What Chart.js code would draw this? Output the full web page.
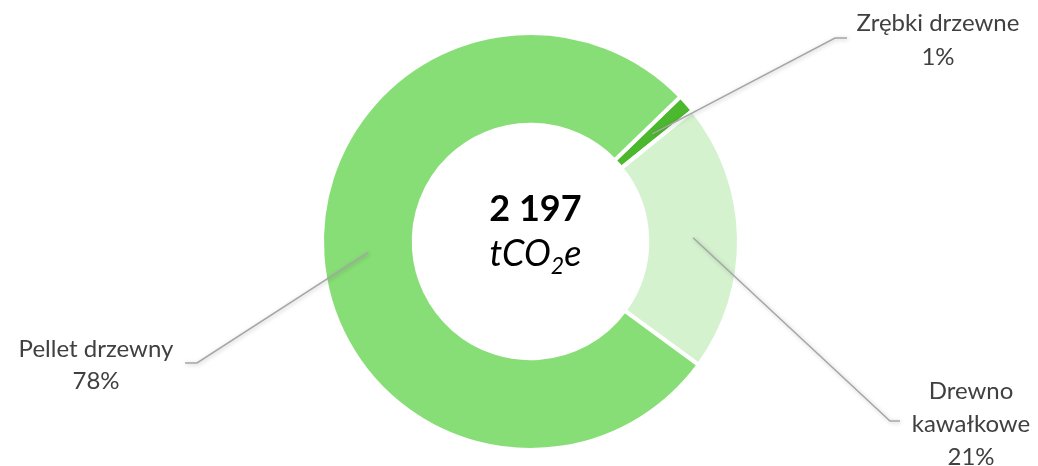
<!DOCTYPE html>
<html>
<head>
<meta charset="utf-8">
<script src="https://cdn.jsdelivr.net/npm/chart.js@4.4.1/dist/chart.umd.min.js"></script>
<style>
  html, body { margin: 0; padding: 0; background: #ffffff; }
  #wrap { width: 1038px; height: 466px; position: relative; }
</style>
</head>
<body>
<div id="wrap"><canvas id="c" width="1038" height="466"></canvas></div>
<script>
// ---- data ----
const categories = ['Zrębki drzewne', 'Drewno kawałkowe', 'Pellet drzewny'];
const values = [31, 459, 1707];
const percentLabels = ['1%', '21%', '78%'];
const totalLabel = '2 197';
const unitMain = 'tCO';
const unitSub = '2';
const unitTail = 'e';

// ---- styles / layout ----
const sliceColors = ['#4cb82e', '#d5f2cf', '#88de76'];
const labelFont = 'Lato, "Open Sans", sans-serif';
const labelLayout = [
  { lines: ['Zrębki drzewne', percentLabels[0]], x: 938, y: 23, lh: 34, elbow: [835, 38], end: [847, 38] },
  { lines: ['Drewno', 'kawałkowe', percentLabels[1]], x: 971, y: 391, lh: 33, elbow: [890, 421], end: [900, 421] },
  { lines: ['Pellet drzewny', percentLabels[2]], x: 96, y: 349, lh: 32, elbow: [197, 363], end: [185, 363] }
];

const labelsPlugin = {
  id: 'labelsPlugin',
  afterDraw(chart) {
    const ctx = chart.ctx;
    const meta = chart.getDatasetMeta(0);
    meta.data.forEach((arc, i) => {
      const L = labelLayout[i];
      const p = arc.getCenterPoint();
      ctx.save();
      ctx.shadowColor = 'rgba(0,0,0,0.25)';
      ctx.shadowBlur = 4;
      ctx.shadowOffsetX = 1;
      ctx.shadowOffsetY = 1;
      ctx.strokeStyle = '#a6a6a6';
      ctx.lineWidth = 1.5;
      ctx.beginPath();
      ctx.moveTo(p.x, p.y);
      ctx.lineTo(L.elbow[0], L.elbow[1]);
      ctx.lineTo(L.end[0], L.end[1]);
      ctx.stroke();
      ctx.restore();

      ctx.save();
      ctx.fillStyle = '#404040';
      ctx.font = '24px ' + labelFont;
      ctx.textAlign = 'center';
      ctx.textBaseline = 'middle';
      L.lines.forEach((t, k) => ctx.fillText(t, L.x, L.y + k * L.lh));
      ctx.restore();
    });

    // center text
    const cx = meta.data[0].x + 5;
    const cy = meta.data[0].y;
    ctx.save();
    ctx.fillStyle = '#000000';
    ctx.textBaseline = 'alphabetic';
    ctx.textAlign = 'center';
    ctx.font = 'bold 36px ' + labelFont;
    ctx.fillText(totalLabel, cx, cy - 21);
    ctx.font = 'italic 36px ' + labelFont;
    const wMain = ctx.measureText(unitMain).width;
    const wTail = ctx.measureText(unitTail).width;
    ctx.font = 'italic 23px ' + labelFont;
    const wSub = ctx.measureText(unitSub).width;
    const total = wMain + wSub + wTail;
    let x = cx - total / 2;
    const base = cy + 24;
    ctx.textAlign = 'left';
    ctx.font = 'italic 36px ' + labelFont;
    ctx.fillText(unitMain, x, base);
    x += wMain;
    ctx.font = 'italic 23px ' + labelFont;
    ctx.fillText(unitSub, x, base + 8);
    x += wSub;
    ctx.font = 'italic 36px ' + labelFont;
    ctx.fillText(unitTail, x, base);
    ctx.restore();
  }
};

new Chart(document.getElementById('c'), {
  type: 'doughnut',
  data: {
    labels: categories,
    datasets: [{
      data: values,
      backgroundColor: sliceColors,
      borderColor: '#ffffff',
      borderWidth: 4
    }]
  },
  options: {
    responsive: false,
    animation: false,
    rotation: 46,
    cutout: '56%',
    layout: { padding: { left: 320, right: 297, top: 31, bottom: 14 } },
    plugins: {
      legend: { display: false },
      tooltip: { enabled: false }
    }
  },
  plugins: [labelsPlugin]
});
</script>
</body>
</html>
